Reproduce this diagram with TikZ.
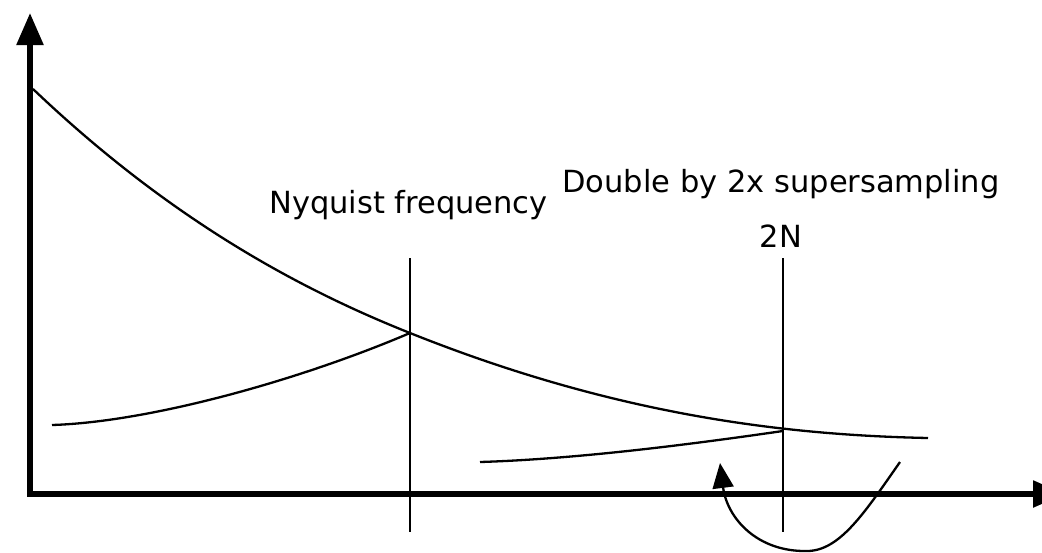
\documentclass[tikz,border=0pt]{standalone}
\usepackage{fontspec}
\setmainfont{DejaVu Sans}
\usetikzlibrary{arrows.meta}
\begin{document}
\begin{tikzpicture}[x=1pt,y=-1pt,
  axis/.style={line width=5.5pt,line join=miter,{Triangle[length=32pt,width=26pt]}-{Triangle[length=32pt,width=26pt]}},
  thin/.style={line width=2pt},
  curve/.style={line width=2.3pt},
  lbl/.style={inner sep=0pt,anchor=base,font=\fontsize{30.5pt}{36pt}\selectfont}]
\useasboundingbox (0,0) rectangle (1042,552);
% axes
\coordinate (ytip) at (30,13);
\coordinate (orig) at (30,494);
\coordinate (xtip) at (1065,494);
\draw[axis] (ytip) |- (xtip);
% key points
\coordinate (nyq) at (410,333);
\coordinate (twoN) at (783,431);
\coordinate (nyqtop) at (410,258);
\coordinate (nyqbot) at (410,532);
\coordinate (twoNtop) at (783,258);
\coordinate (twoNbot) at (783,532);
% vertical markers
\draw[thin] (nyqtop) -- (nyqbot);
\draw[thin] (twoNtop) -- (twoNbot);
% main decaying curve
\coordinate (mstart) at (33,89);
\coordinate (mend) at (928,438);
\draw[curve] (mstart) .. controls (159,209) and (284,283) .. (nyq)
  .. controls (610,413) and (778,435) .. (mend);
% aliased fold-back curves
\coordinate (lstart) at (52,425);
\coordinate (rstart) at (480,462);
\draw[curve] (lstart) .. controls (150,422) and (300,380) .. (nyq);
\draw[curve] (rstart) .. controls (580,459) and (700,443) .. (twoN);
% curly arrow
\coordinate (cstart) at (900,462);
\coordinate (cbot) at (807,551);
\coordinate (ctip) at (720,463);
\draw[curve,-{Triangle[length=25pt,width=21pt]}] (cstart) .. controls (865,512) and (840,551) .. (cbot) .. controls (757,552) and (727,518) .. (ctip);
% labels
\node[lbl] (nyqlbl) at (408.5,213) {Nyquist frequency};
\node[lbl] (dbllbl) at (781,192) {Double by 2x supersampling};
\node[lbl] (twoNlbl) at (781,247) {2N};
\end{tikzpicture}
\end{document}
